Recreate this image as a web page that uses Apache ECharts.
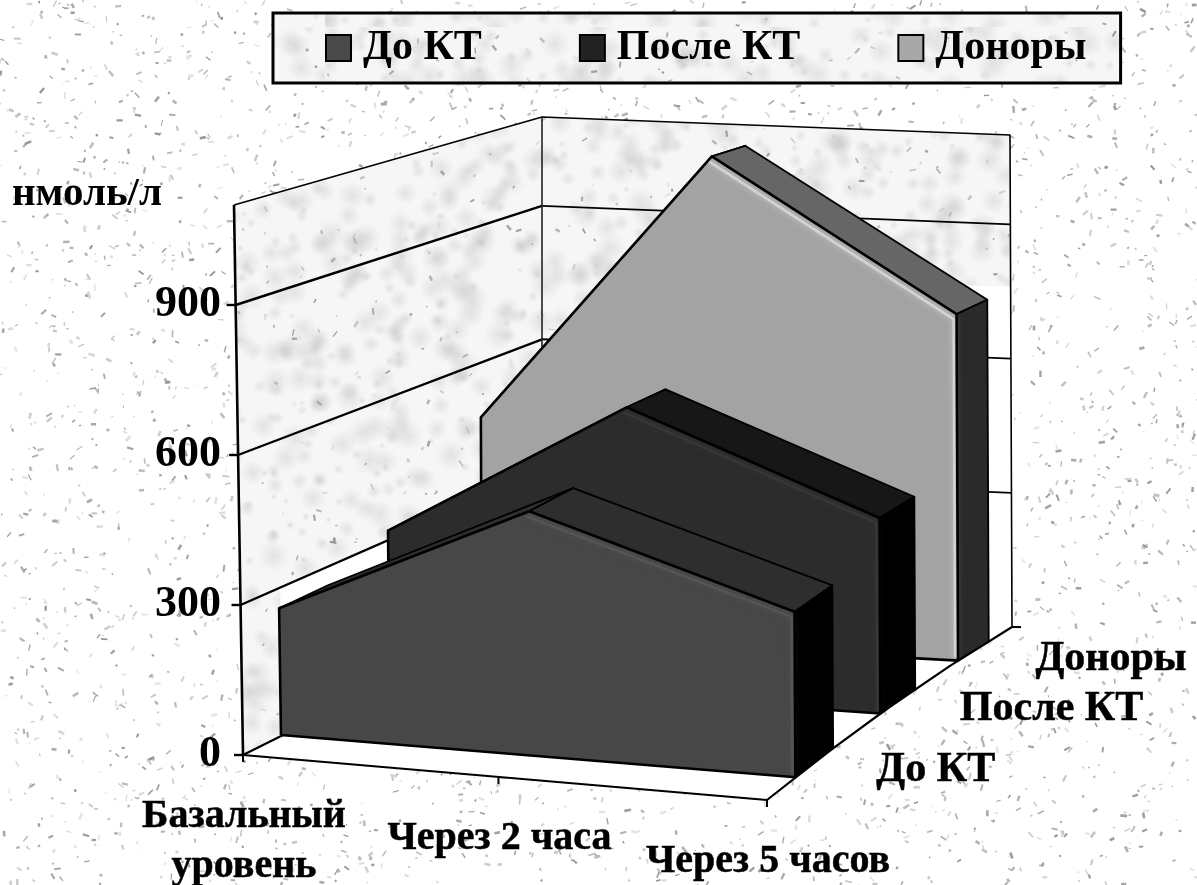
<!DOCTYPE html>
<html>
<head>
<meta charset="utf-8">
<style>html,body{margin:0;padding:0;background:#fff}#chart{width:1197px;height:885px}</style>
<script src="https://cdn.jsdelivr.net/npm/echarts@6/dist/echarts.min.js"></script>
</head>
<body>
<div id="chart"></div>
<script>
// данные
const categories = ['Базальный\nуровень', 'Через 2 часа', 'Через 5 часов'];
const seriesNames = ['До КТ', 'После КТ', 'Доноры'];
const doKt = [257, 495, 335];
const posleKt = [314, 608, 411];
const donory = [475, 1072, 755];
const yTicks = [0, 300, 600, 900];
const yMax = 1100;

// углы "коробки" диаграммы на экране
const BOX = {
    frontLeft: { floor: [243, 755], top: [234, 205] },
    frontRight: { floor: [767, 800], top: [764, 250] },
    backLeft: { floor: [542, 606], top: [542, 117] },
    backRight: { floor: [1012, 627], top: [1010, 135] }
};
const GRID = { left: 243, top: 205, width: 524, height: 550 };
const FONT = 'bold 42px "Liberation Serif", serif';

// глубина рядов: передняя и задняя стенка, стиль граней
const rows = [
    { d: [0.116, 0.27], front: '#474747', top: '#2e2e2e', side: '#000000', glow: '#5a5a5a' },
    { d: [0.463, 0.605], front: '#2c2c2c', top: '#171717', side: '#000000', glow: '#3c3c3c' },
    { d: [0.78, 0.905], front: '#a3a3a3', top: '#666666', side: '#2a2a2a', glow: '#e6e6e6' }
];

// простой генератор для текстуры фона (не для данных)
function lcg(seed) {
    let s = seed;
    return () => {
        s = (s * 1664525 + 1013904223) % 4294967296;
        return s / 4294967296;
    };
}

function speckleCanvas(w, h, seed, count, base) {
    const c = document.createElement('canvas');
    c.width = w; c.height = h;
    const ctx = c.getContext('2d');
    const r = lcg(seed);
    ctx.fillStyle = base;
    ctx.fillRect(0, 0, w, h);
    ctx.filter = 'blur(0.7px)';
    for (let i = 0; i < count; i++) {
        const x = r() * w, y = r() * h, a = r() * Math.PI, l = 1 + r() * 6;
        const g = 150 + Math.floor(r() * 80);
        ctx.strokeStyle = 'rgb(' + g + ',' + g + ',' + g + ')';
        ctx.lineWidth = 1 + r() * 1.8;
        ctx.beginPath();
        ctx.moveTo(x, y);
        ctx.lineTo(x + Math.cos(a) * l, y + Math.sin(a) * l);
        ctx.stroke();
    }
    ctx.filter = 'none';
    return c;
}

function mottleCanvas(w, h, seed) {
    const c = speckleCanvas(w, h, seed, Math.round(w * h / 1200), '#f6f6f6');
    const ctx = c.getContext('2d');
    const r = lcg(seed + 7);
    const blobs = Math.round(w * h / 400);
    for (let i = 0; i < blobs; i++) {
        const x = r() * w, y = r() * h, rad = 3 + r() * 13;
        const grd = ctx.createRadialGradient(x, y, 0, x, y, rad);
        grd.addColorStop(0, 'rgba(165,165,165,0.24)');
        grd.addColorStop(1, 'rgba(165,165,165,0)');
        ctx.fillStyle = grd;
        ctx.fillRect(x - rad, y - rad, rad * 2, rad * 2);
    }
    return c;
}

const bgPattern = { image: speckleCanvas(1197, 885, 11, 4200, '#ffffff'), repeat: 'no-repeat' };
const wallPattern = { image: mottleCanvas(1197, 885, 29), repeat: 'no-repeat' };

const mix = (a, b, t) => [a[0] + (b[0] - a[0]) * t, a[1] + (b[1] - a[1]) * t];

// u - вдоль категорий, d - в глубину, h - доля высоты
function project3d(u, d, h) {
    const w = u - 0.05 * u * (1 - u);
    const floor = mix(mix(BOX.frontLeft.floor, BOX.frontRight.floor, w), mix(BOX.backLeft.floor, BOX.backRight.floor, w), d);
    const top = mix(mix(BOX.frontLeft.top, BOX.frontRight.top, w), mix(BOX.backLeft.top, BOX.backRight.top, w), d);
    const p = mix(floor, top, h);
    // небольшая поправка на перспективу
    const bend = d * (1 - d);
    return [p[0] + 32 * bend * (1 - u), p[1] - 26 * bend];
}

// перевод из плоских координат осей в проекцию
function fromAxes(api, cat, value, d) {
    const p = api.coord([cat, value]);
    const u = (p[0] - GRID.left) / GRID.width;
    const h = (GRID.top + GRID.height - p[1]) / GRID.height;
    return project3d(u, d, h);
}

const poly = (points, fill, stroke, lineWidth) => ({
    type: 'polygon', silent: true, shape: { points },
    style: { fill, stroke: stroke || null, lineWidth: lineWidth || 0, lineJoin: 'round' }
});
const line = (points, stroke, lineWidth) => ({
    type: 'polyline', silent: true, shape: { points },
    style: { fill: null, stroke, lineWidth, lineJoin: 'round' }
});

function renderFrame(params, api) {
    const at = (u, d, v) => fromAxes(api, u * (categories.length - 1), v, d);
    const children = [];
    children.push(poly([at(0, 0, 0), at(0, 0, yMax), at(0, 1, yMax), at(0, 1, 0)], wallPattern));
    children.push(poly([at(0, 1, 0), at(0, 1, yMax), at(1, 1, yMax), at(1, 1, 0)], wallPattern));
    // светлые участки стен
    children.push(poly([at(0, 0.12, 0), at(0, 0.12, 300), at(0, 1, 300), at(0, 1, 0)], '#ffffff'));
    children.push(poly([at(0.7, 1, 0), at(0.7, 1, 760), at(1, 1, 760), at(1, 1, 0)], '#ffffff'));
    const floorEdge = [0, 0.25, 0.5, 0.75, 1].map((d) => at(1, d, 0));
    children.push(poly([at(0, 0, 0)].concat(floorEdge, [at(0, 1, 0)]), '#ffffff'));
    yTicks.forEach((v) => {
        if (v > 0) {
            children.push(line([at(0, 0, v), at(0, 1, v)], '#000000', 2.4));
            children.push(line([at(0, 1, v), at(1, 1, v)], '#000000', 1.8));
        }
        const p = at(0, 0, v);
        children.push(line([[p[0] - 9, p[1]], p], '#000000', 2.4));
    });
    children.push(line([at(0, 0, yMax), at(0, 1, yMax), at(1, 1, yMax), at(1, 1, 0)], '#000000', 1.6));
    children.push(line([at(0, 1, yMax), at(0, 1, 0)], '#222222', 1.6));
    children.push(line([at(0, 0, yMax), at(0, 0, 0)], '#000000', 2.6));
    children.push(line([at(0, 1, 0), at(0, 0, 0), at(1, 0, 0)].concat(floorEdge), '#000000', 2.2));
    categories.forEach((c, i) => {
        const p = at(i / (categories.length - 1), 0, 0);
        children.push(line([p, [p[0], p[1] + 7]], '#000000', 2));
    });
    const e = at(1, 1, 0);
    children.push(line([e, [e[0] + 9, e[1]]], '#000000', 2));
    return { type: 'group', children };
}

function ribbonRenderer(rowIndex) {
    const row = rows[rowIndex];
    return function (params, api) {
        const n = params.dataInsideLength;
        if (params.dataIndexInside !== n - 1) return null;
        const front = [], back = [];
        for (let i = 0; i < n; i++) {
            const cat = api.value(0, i), v = api.value(1, i);
            front.push(fromAxes(api, cat, v, row.d[0]));
            back.push(fromAxes(api, cat, v, row.d[1]));
        }
        const f0 = fromAxes(api, api.value(0, 0), 0, row.d[0]);
        const f1 = fromAxes(api, api.value(0, n - 1), 0, row.d[0]);
        const b1 = fromAxes(api, api.value(0, n - 1), 0, row.d[1]);
        const children = [];
        for (let i = 0; i < n - 1; i++) {
            children.push(poly([front[i], front[i + 1], back[i + 1], back[i]], row.top, '#000000', 1.8));
        }
        const last = n - 1;
        children.push(poly([front[last], back[last], b1, f1], row.side, '#000000', 1.8));
        const face = [f0].concat(front, [f1]);
        children.push(poly(face, row.front));
        // светлая кайма по правому скату и правому краю
        const glow = front.slice(1).map((p) => [p[0] - 3, p[1] + 5]).concat([[f1[0] - 3, f1[1] - 3]]);
        children.push({
            type: 'polyline', silent: true, shape: { points: glow },
            style: { fill: null, stroke: row.glow, lineWidth: 2.5, shadowBlur: 6, shadowColor: row.glow, lineJoin: 'round', opacity: 0.65 }
        });
        children.push(line(face.concat([f0]), '#000000', 2.6));
        return { type: 'group', children };
    };
}

function renderCategoryLabel(params, api) {
    const p = fromAxes(api, api.value(0), 0, 0);
    return {
        type: 'text', silent: true, x: p[0] + 1, y: p[1] + 37,
        style: {
            text: categories[params.dataIndex], font: 'bold 40px "Liberation Serif", serif', lineHeight: 50,
            fill: '#000000', stroke: '#000000', lineWidth: 0.5, align: 'center', verticalAlign: 'top'
        }
    };
}

function renderDepthLabel(params, api) {
    const row = rows[params.dataIndex];
    const p = fromAxes(api, categories.length - 1, 0, (row.d[0] + row.d[1]) / 2);
    return {
        type: 'text', silent: true, x: p[0] + 62, y: p[1] + 8,
        style: {
            text: seriesNames[params.dataIndex], font: FONT,
            fill: '#000000', stroke: '#000000', lineWidth: 0.5, align: 'left', verticalAlign: 'middle'
        }
    };
}

const toPoints = (values) => values.map((v, i) => [i, v]);
const anchorData = [[0, 0]];

const myChart = echarts.init(document.getElementById('chart'), null, { renderer: 'canvas' });
myChart.setOption({
    animation: false,
    backgroundColor: bgPattern,
    tooltip: { show: false },
    grid: { left: GRID.left, top: GRID.top, width: GRID.width, height: GRID.height },
    legend: {
        data: seriesNames.map((name) => ({ name, icon: 'rect' })),
        left: 273, top: 13,
        padding: [14, 34, 14, 52],
        itemGap: 97, itemWidth: 25, itemHeight: 26,
        selectedMode: false,
        backgroundColor: { image: mottleCanvas(847, 70, 5), repeat: 'repeat' },
        borderColor: '#000000', borderWidth: 3,
        textStyle: { fontFamily: 'Liberation Serif', fontWeight: 'bold', fontSize: 42, color: '#000000', padding: [0, 0, 0, 7] }
    },
    xAxis: { type: 'category', data: categories, boundaryGap: false, show: false },
    yAxis: {
        type: 'value', min: 0, max: yMax, interval: 300,
        name: 'нмоль/л',
        nameLocation: 'end', nameGap: 11,
        nameTextStyle: { fontFamily: 'Liberation Serif', fontWeight: 'bold', fontSize: 41, color: '#000', align: 'right', verticalAlign: 'middle', padding: [0, 81, 0, 0] },
        axisLine: { show: false }, axisTick: { show: false }, splitLine: { show: false },
        axisLabel: { fontFamily: 'Liberation Serif', fontWeight: 'bold', fontSize: 44, color: '#000', margin: 22, showMaxLabel: false }
    },
    series: [
        { type: 'custom', name: 'frame', z: 1, clip: false, data: anchorData, renderItem: renderFrame },
        { type: 'custom', name: seriesNames[2], z: 2, clip: false, data: toPoints(donory), renderItem: ribbonRenderer(2), itemStyle: { color: '#a8a8a8', borderColor: '#000', borderWidth: 2.5 } },
        { type: 'custom', name: seriesNames[1], z: 3, clip: false, data: toPoints(posleKt), renderItem: ribbonRenderer(1), itemStyle: { color: '#222222', borderColor: '#000', borderWidth: 2.5 } },
        { type: 'custom', name: seriesNames[0], z: 4, clip: false, data: toPoints(doKt), renderItem: ribbonRenderer(0), itemStyle: { color: '#4a4a4a', borderColor: '#000', borderWidth: 2.5 } },
        { type: 'custom', name: 'categoryLabels', z: 5, clip: false, data: toPoints(categories.map(() => 0)), renderItem: renderCategoryLabel },
        { type: 'custom', name: 'depthLabels', z: 5, clip: false, data: toPoints(seriesNames.map(() => 0)), renderItem: renderDepthLabel }
    ]
});
</script>
</body>
</html>
